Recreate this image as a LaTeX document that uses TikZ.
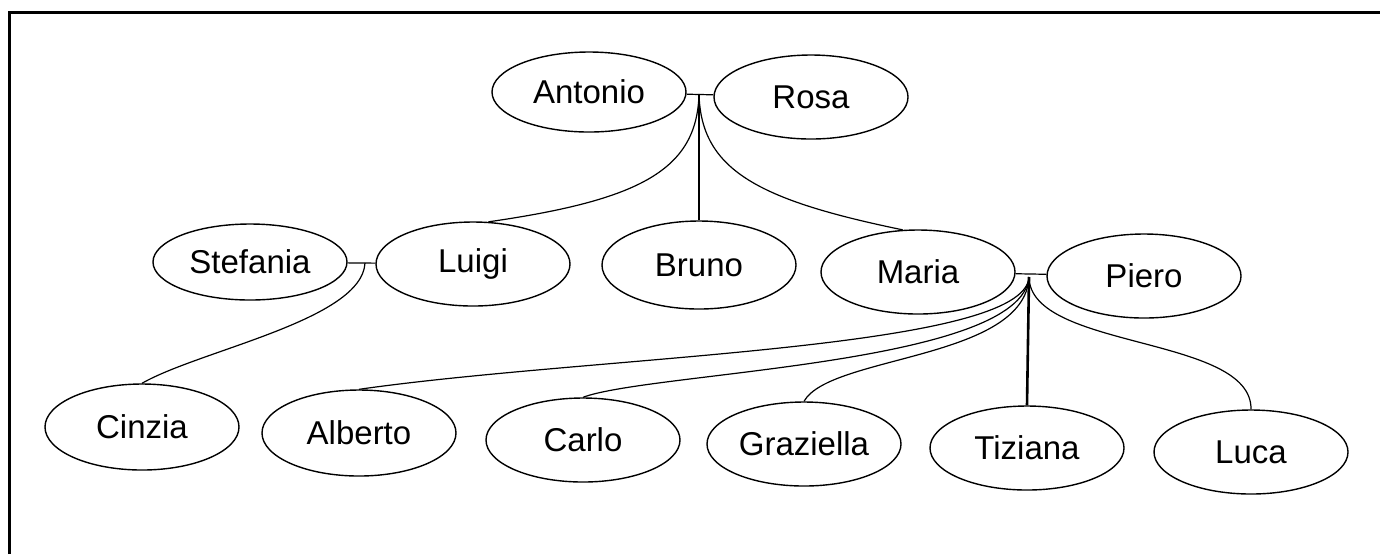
\documentclass[tikz,border=0pt]{standalone}
\usepackage{fontspec}
\setmainfont{Liberation Sans}
\usetikzlibrary{shapes.geometric}

\begin{document}
\begin{tikzpicture}[x=0.5pt, y=-0.5pt,
  person/.style={ellipse, draw, line width=0.7pt, minimum width=97pt, minimum height=42pt, inner sep=0pt, font=\fontsize{16.5}{18}\selectfont},
  link/.style={line width=0.6pt}]

\useasboundingbox (0,0) rectangle (1380,554);
\draw[line width=1.5pt] (9,554) -- (9,12) -- (1380,12);

\node[person, minimum height=40pt] (Antonio) at (589,92) {Antonio};
\node[person] (Rosa) at (811,97) {Rosa};
\node[person, minimum height=38pt] (Stefania) at (250,262) {Stefania};
\node[person] (Luigi) at (473,264) {Luigi};
\node[person, minimum height=44pt] (Bruno) at (699,265) {Bruno};
\node[person] (Maria) at (918,272) {Maria};
\node[person] (Piero) at (1144,276) {Piero};
\node[person, minimum height=43pt] (Cinzia) at (142,427) {Cinzia};
\node[person, minimum height=43pt] (Alberto) at (359,433) {Alberto};
\node[person] (Carlo) at (583,440) {Carlo};
\node[person] (Graziella) at (804,444) {Graziella};
\node[person] (Tiziana) at (1027,448) {Tiziana};
\node[person] (Luca) at (1251,452) {Luca};

\coordinate (ar) at (699,94);
\coordinate (sl) at (365,263);
\coordinate (mp) at (1029,277);

\draw[link] (Antonio) edge (Rosa);
\draw[link] (Stefania) edge (Luigi);
\draw[link] (Maria) edge (Piero);

\draw[link] (ar) .. controls (697,170) and (640,200) .. (Luigi.70);
\draw[link] (ar) -- (Bruno.north);
\draw[link] (ar) .. controls (701,170) and (758,200) .. (Maria.110);

\draw[link] (sl) .. controls (362,320) and (200,350) .. (Cinzia.north);

\draw[link] (mp) .. controls (1025,350) and (600,355) .. (Alberto.north);
\draw[link] (mp) .. controls (1022,365) and (650,372) .. (Carlo.north);
\draw[link] (mp) .. controls (1025,360) and (830,355) .. (Graziella.north);
\draw[line width=1.3pt] (mp) -- (Tiziana.north);
\draw[link] (mp) .. controls (1030,350) and (1252,335) .. (Luca.north);
\end{tikzpicture}
\end{document}
